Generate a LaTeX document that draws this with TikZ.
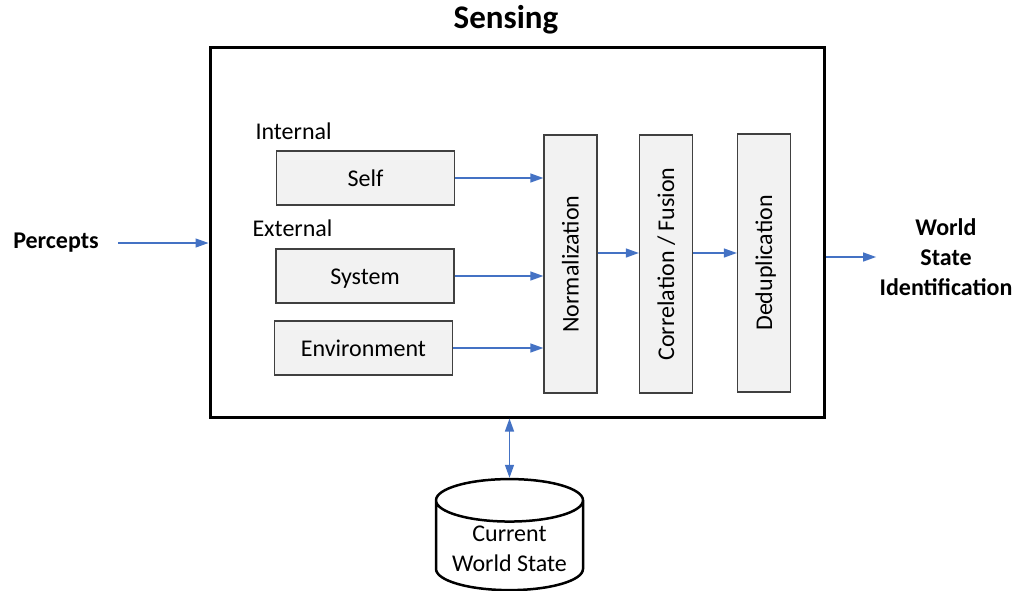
\documentclass[tikz,border=0pt]{standalone}
\usepackage{fontspec}
\setmainfont{Carlito}
\usetikzlibrary{positioning, arrows.meta, shapes.geometric}
\definecolor{arrowblue}{HTML}{4472C4}
\definecolor{boxgray}{HTML}{F2F2F2}
\definecolor{edgegray}{HTML}{404040}

\begin{document}
\begin{tikzpicture}[x=1pt, y=-1pt,
    every node/.style={font=\fontsize{24}{30}\selectfont},
    block/.style={draw=edgegray, fill=boxgray, line width=1.3pt, minimum width=178pt, minimum height=54pt, inner sep=0pt,
                  text height=19pt, text depth=3pt},
    stage/.style={block, minimum width=258pt, minimum height=53pt, rotate=90},
    bold/.style={font=\fontsize{24}{30}\selectfont\bfseries, align=center},
    flow/.style={color=arrowblue, line width=1.3pt, -{Triangle[length=13pt, width=9pt]}}]
        \clip (0,0) rectangle (1018,590);

        % outer sensing box
        \node[draw, line width=3pt, minimum width=614pt, minimum height=370pt] (outer) at (517,232) {};
        \node[font=\fontsize{33}{40}\selectfont\bfseries] (title) at (506,20) {Sensing};

        % percept sources
        \node[anchor=west] (internal) at (252,131) {Internal};
        \node[block]            (self)  at (365.5,178) {Self};
        \node[anchor=west] (external) at (249,228) {External};
        \node[block]            (system) at (365,276) {System};
        \node[block]            (env)    at (363.5,348) {Environment};

        % processing stages
        \node[stage] (norm)  at (570.5,264) {Normalization};
        \node[stage] (corr)  at (666,264)   {Correlation / Fusion};
        \node[stage] (dedup) at (764,263)   {Deduplication};

        % inputs and outputs
        \node[bold] (percepts) at (56,243) {Percepts};
        \node[bold] (wsi) at (946,257) {World\\State\\Identification};
        \node[draw, line width=2.5pt, cylinder, shape border rotate=90, aspect=0.35,
              minimum width=147pt, minimum height=108pt, align=center] (db) at (509.5,549)
              {Current\\World State};

        \draw[flow] (self.east) -- (self.east -| norm.north);
        \draw[flow] (system.east) -- (system.east -| norm.north);
        \draw[flow] (env.east) -- (env.east -| norm.north);
        \draw[flow] (norm.south |- 0,253) -- (corr.north |- 0,253);
        \draw[flow] (corr.south |- 0,253) -- (dedup.north |- 0,253);
        \draw[flow, shorten <=16pt] (percepts.east) -- (percepts.east -| outer.west);
        \draw[flow] (outer.east |- wsi.west) -- (wsi.west);
        \draw[flow, {Triangle[length=13pt, width=9pt]}-{Triangle[length=13pt, width=9pt]}]
          (outer.south -| db.north) -- (db.north);
      \end{tikzpicture}
\end{document}
